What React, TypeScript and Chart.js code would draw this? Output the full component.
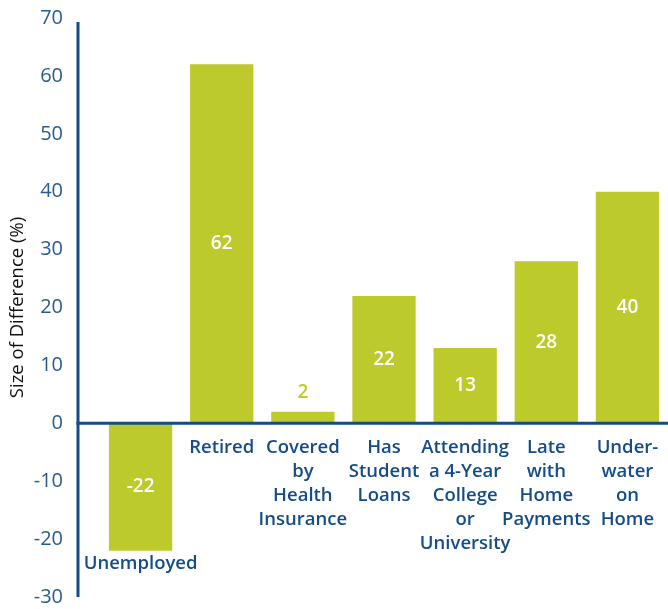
import React, { useEffect, useRef } from "react";
import { Chart, registerables } from "chart.js";

Chart.register(...registerables);

const categories: string[][] = [
  ["Unemployed"],
  ["Retired"],
  ["Covered", "by", "Health", "Insurance"],
  ["Has", "Student", "Loans"],
  ["Attending", "a 4-Year", "College", "or", "University"],
  ["Late", "with", "Home", "Payments"],
  ["Under-", "water", "on", "Home"],
];
const values: number[] = [-22, 62, 2, 22, 13, 28, 40];
const yTicks: number[] = [-30, -20, -10, 0, 10, 20, 30, 40, 50, 60, 70];

const GREEN = "#BDCA2B";
const BLUE = "#154C86";
const TICK_BLUE = "#2A5B8E";
const FONT = "'Open Sans', 'DejaVu Sans', sans-serif";

const overlay = {
  id: "overlay",
  afterDatasetsDraw(chart: any) {
    const { ctx, chartArea } = chart;
    const y = chart.scales.y;
    const meta = chart.getDatasetMeta(0);
    const zero = y.getPixelForValue(0);
    const axisX = chartArea.left - 22;
    ctx.save();
    ctx.strokeStyle = BLUE;
    ctx.lineWidth = 3;
    ctx.beginPath();
    ctx.moveTo(axisX, y.getPixelForValue(70) + 4);
    ctx.lineTo(axisX, y.getPixelForValue(-30));
    ctx.stroke();
    ctx.beginPath();
    ctx.moveTo(axisX - 1.5, zero);
    ctx.lineTo(chart.width, zero);
    ctx.stroke();

    meta.data.forEach((bar: any, i: number) => {
      const v = values[i];
      ctx.font = `600 19px ${FONT}`;
      ctx.textAlign = "center";
      ctx.textBaseline = "middle";
      if (Math.abs(v) < 5) {
        ctx.fillStyle = GREEN;
        ctx.fillText(String(v), bar.x, bar.y - 19);
      } else {
        ctx.fillStyle = "#FFFFFF";
        ctx.fillText(String(v), bar.x, (bar.y + zero) / 2);
      }
      ctx.font = `600 18.5px ${FONT}`;
      ctx.fillStyle = BLUE;
      const lines = categories[i];
      const start = v < 0 ? bar.y + 13 : zero + 24;
      lines.forEach((ln, k) => {
        ctx.fillText(ln, bar.x, start + k * 24);
      });
    });
    ctx.restore();
  },
};

export default function App() {
  const ref = useRef<HTMLCanvasElement | null>(null);
  useEffect(() => {
    document.body.style.margin = "0";
    const chart = new Chart(ref.current as HTMLCanvasElement, {
      type: "bar",
      data: {
        labels: categories.map((c) => c.join(" ")),
        datasets: [
          {
            data: values,
            backgroundColor: GREEN,
            borderWidth: 0,
            barPercentage: 0.78,
            categoryPercentage: 1,
          },
        ],
      },
      plugins: [overlay],
      options: {
        animation: false,
        responsive: false,
        maintainAspectRatio: false,
        layout: { padding: { left: 0, right: 0, top: 18, bottom: 12 } },
        plugins: {
          legend: { display: false },
          tooltip: { enabled: false },
        },
        scales: {
          x: {
            display: false,
          },
          y: {
            min: -30,
            max: 70,
            afterBuildTicks: (scale: any) => {
              scale.ticks = yTicks.map((v) => ({ value: v }));
            },
            afterFit: (scale: any) => {
              scale.width = 100;
              scale.paddingTop = 0;
              scale.paddingBottom = 0;
            },
            grid: { display: false, drawTicks: false },
            border: { display: false },
            ticks: {
              color: TICK_BLUE,
              padding: 37,
              font: { family: FONT, size: 20 },
            },
            title: {
              display: true,
              text: "Size of Difference (%)",
              color: "#111111",
              font: { family: FONT, size: 18.5 },
              padding: { top: 7, bottom: 0 },
            },
          },
        },
      },
    });
    return () => chart.destroy();
  }, []);
  return (
    <div style={{ width: 668, height: 609 }}>
      <canvas ref={ref} width={668} height={609} style={{ width: 668, height: 609, display: "block" }} />
    </div>
  );
}
